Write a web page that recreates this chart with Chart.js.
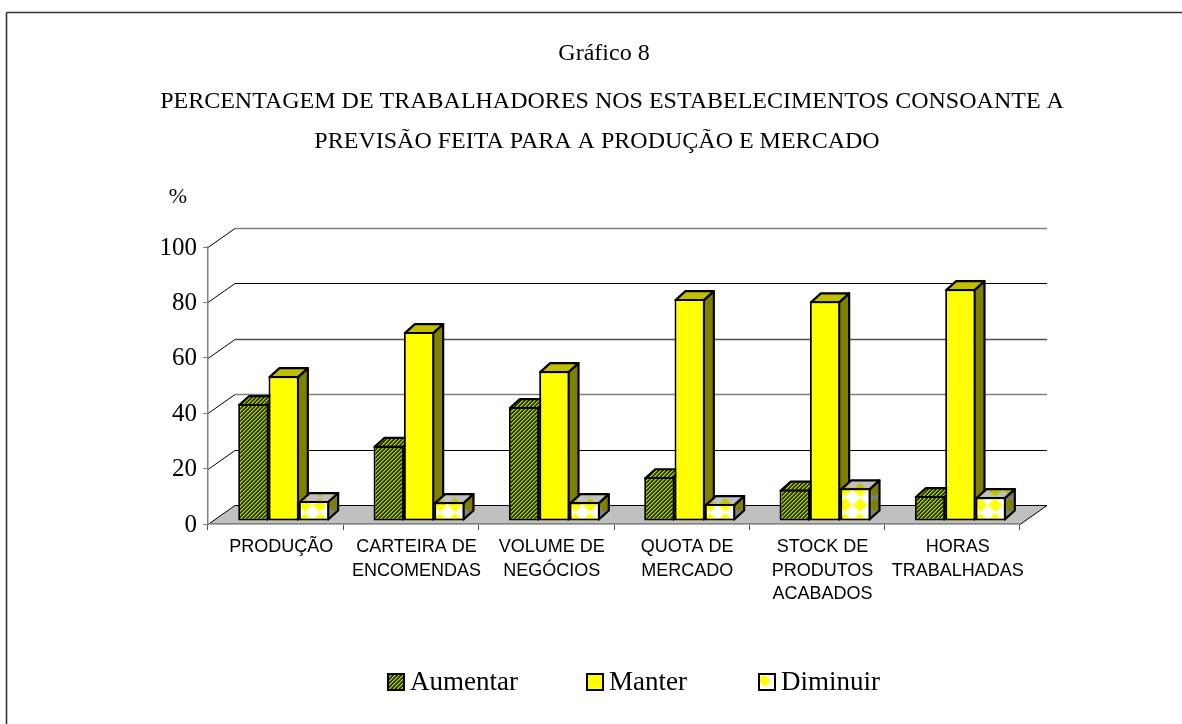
<!DOCTYPE html>
<html lang="pt"><head><meta charset="utf-8">
<style>html,body{margin:0;padding:0;background:#fff;overflow:hidden}#wrap{position:absolute;left:0;top:0;width:1182px;height:724px}</style>
<script src="https://cdn.jsdelivr.net/npm/chart.js@4"></script>
</head><body><div id="wrap"><canvas id="c" width="1182" height="724"></canvas></div>
<script>
const categories = [['PRODUÇÃO'],['CARTEIRA DE','ENCOMENDAS'],['VOLUME DE','NEGÓCIOS'],['QUOTA DE','MERCADO'],['STOCK DE','PRODUTOS','ACABADOS'],['HORAS','TRABALHADAS']];
const aumentar = [42.2,27.1,41.1,15.8,11.3,9];
const manter = [52.3,68.2,54.1,80.1,79.3,83.7];
const diminuir = [7.2,6.8,6.8,6.1,11.8,8.6];
const seriesNames = ['Aumentar','Manter','Diminuir'];
const yTicks = [0,20,40,60,80,100];
const titleLines = ['Gráfico 8','PERCENTAGEM DE TRABALHADORES NOS ESTABELECIMENTOS CONSOANTE A','PREVISÃO FEITA PARA A PRODUÇÃO E MERCADO'];
const yUnit = '%';

const SERIF = '"Liberation Serif","Times New Roman",serif';
const SANS = '"Liberation Sans",Arial,sans-serif';

function hatch(){
  const t=document.createElement('canvas');t.width=t.height=4;const x=t.getContext('2d');
  const bands=['#243a00','#c8d400','#6a8c00','#243a00'];
  for(let i=0;i<4;i++)for(let j=0;j<4;j++){x.fillStyle=bands[(i+j)%4];x.fillRect(i,j,1,1);}
  return x.createPattern(t,'repeat');
}
function diamonds(bg, fg){
  const t=document.createElement('canvas');t.width=15;t.height=15;const x=t.getContext('2d');
  x.fillStyle=bg;x.fillRect(0,0,15,15);x.fillStyle=fg;
  x.beginPath();x.moveTo(7.5,0.5);x.lineTo(14.5,7.5);x.lineTo(7.5,14.5);x.lineTo(0.5,7.5);x.closePath();x.fill();
  const p=x.createPattern(t,'repeat');
  p.setTransform(new DOMMatrix().translate(4.5,5.5));
  return p;
}
const faces = [
  {front:hatch(),side:hatch(),top:hatch()},
  {front:'#ffff00',side:'#808000',top:'#c0c000'},
  {front:diamonds('#ffffff','#ffff00'),side:diamonds('#808080','#808000'),top:diamonds('#c0c0c0','#c0c000')}
];
const DEPTH_X=27, DEPTH_Y=19, BAR_DX=10, BAR_DY=9, SHIFT_X=8, SHIFT_Y=3;

function seg(c,x1,y1,x2,y2,col,w){c.strokeStyle=col;c.lineWidth=w;c.beginPath();c.moveTo(x1,y1);c.lineTo(x2,y2);c.stroke();}
function quad(c,pts,fill){c.beginPath();pts.forEach((p,i)=>i?c.lineTo(p[0],p[1]):c.moveTo(p[0],p[1]));c.closePath();c.fillStyle=fill;c.fill();c.strokeStyle='#000';c.lineWidth=2.2;c.lineJoin='round';c.stroke();}

const wall3d = {
  id:'wall3d',
  beforeDraw(chart){
    const c=chart.ctx,{left,right}=chart.chartArea,y=chart.scales.y;
    c.save();
    seg(c,6.5,724,6.5,12.5,'#333',1.6);seg(c,6.5,12.5,1182,12.5,'#333',1.6);
    const y0=y.getPixelForValue(0)+.5;
    c.beginPath();c.moveTo(left,y0);c.lineTo(right,y0);c.lineTo(right+DEPTH_X,y0-DEPTH_Y);c.lineTo(left+DEPTH_X,y0-DEPTH_Y);c.closePath();
    c.fillStyle='#c0c0c0';c.fill();
    seg(c,left,y0,left+DEPTH_X,y0-DEPTH_Y,'#000',1);
    seg(c,right,y0,right+DEPTH_X,y0-DEPTH_Y,'#000',1);
    const cols={0:'#000',20:'#000',40:'#808080',60:'#505050',80:'#000',100:'#808080'};
    yTicks.forEach(v=>{
      const p=Math.round(y.getPixelForValue(v))+.5;
      if(v>0) seg(c,left,p,left+DEPTH_X,p-DEPTH_Y,'#000',1);
      seg(c,left+DEPTH_X,p-DEPTH_Y,right+DEPTH_X,p-DEPTH_Y,cols[v],v===40||v===100||v===60?1.5:1.2);
    });
    c.restore();
  },
  beforeDatasetsDraw(chart){
    const c=chart.ctx;
    c.save();c.translate(SHIFT_X,-SHIFT_Y);
    chart.data.datasets.forEach((ds,i)=>{
      const f=faces[i];
      chart.getDatasetMeta(i).data.forEach(b=>{
        const l=b.x-b.width/2+1,r=b.x+b.width/2-1,t=b.y+1,bt=b.base-1;
        quad(c,[[r,t],[r+BAR_DX,t-BAR_DY],[r+BAR_DX,bt-BAR_DY],[r,bt]],f.side);
        quad(c,[[l,t],[l+BAR_DX,t-BAR_DY],[r+BAR_DX,t-BAR_DY],[r,t]],f.top);
      });
    });
  },
  afterDatasetsDraw(chart){chart.ctx.restore();},
  afterDraw(chart){
    const c=chart.ctx;
    c.save();c.textBaseline='alphabetic';c.fillStyle='#000';
    c.textAlign='center';c.font='24px '+SERIF;
    c.fillText(titleLines[0],604,60);
    c.fillText(titleLines[1],612,108);
    c.fillText(titleLines[2],597,148);
    c.font='22px '+SERIF;c.fillText(yUnit,178,203);
    const xs=[387,586,758];
    c.textAlign='left';c.font='27px '+SERIF;
    seriesNames.forEach((n,i)=>{
      c.fillStyle='#000';c.fillRect(xs[i],673,18,18);
      c.fillStyle=i===2?'#fff':faces[i].front;c.fillRect(xs[i]+2,675,14,14);
      if(i===2){c.fillStyle='#ffff00';c.beginPath();c.moveTo(xs[i]+7,675);c.lineTo(xs[i]+13,681);c.lineTo(xs[i]+7,687);c.lineTo(xs[i]+2,682);c.lineTo(xs[i]+2,677);c.closePath();c.fill();}
      c.fillStyle='#000';c.fillText(n,xs[i]+23,690);
    });
    c.restore();
  }
};

new Chart(document.getElementById('c'),{
  type:'bar',
  data:{labels:categories,datasets:[aumentar,manter,diminuir].map((d,i)=>({label:seriesNames[i],data:d,backgroundColor:faces[i].front,borderColor:'#000',borderWidth:2,borderSkipped:false,categoryPercentage:0.672,barPercentage:1,clip:false}))},
  options:{
    responsive:false,animation:false,
    layout:{padding:{left:0,right:162,top:247,bottom:0}},
    plugins:{legend:{display:false},title:{display:false},tooltip:{enabled:false}},
    scales:{
      x:{grid:{drawOnChartArea:false,color:'#555',tickLength:6,offset:true},border:{color:'#808080',width:1.5},
         ticks:{color:'#000',font:{family:SANS,size:18,lineHeight:1.28},padding:6,labelOffset:5.5,maxRotation:0,autoSkip:false},
         afterFit(s){s.height=200;}},
      y:{min:0,max:100,afterBuildTicks(s){s.ticks=yTicks.map(v=>({value:v}));},
         grid:{drawOnChartArea:false,color:'#808080',tickLength:5},border:{color:'#808080',width:1.5},
         ticks:{color:'#000',font:{family:SERIF,size:25},padding:6,labelOffset:1},
         afterFit(s){s.width=208;}}
    }
  },
  plugins:[wall3d]
});
</script></body></html>
